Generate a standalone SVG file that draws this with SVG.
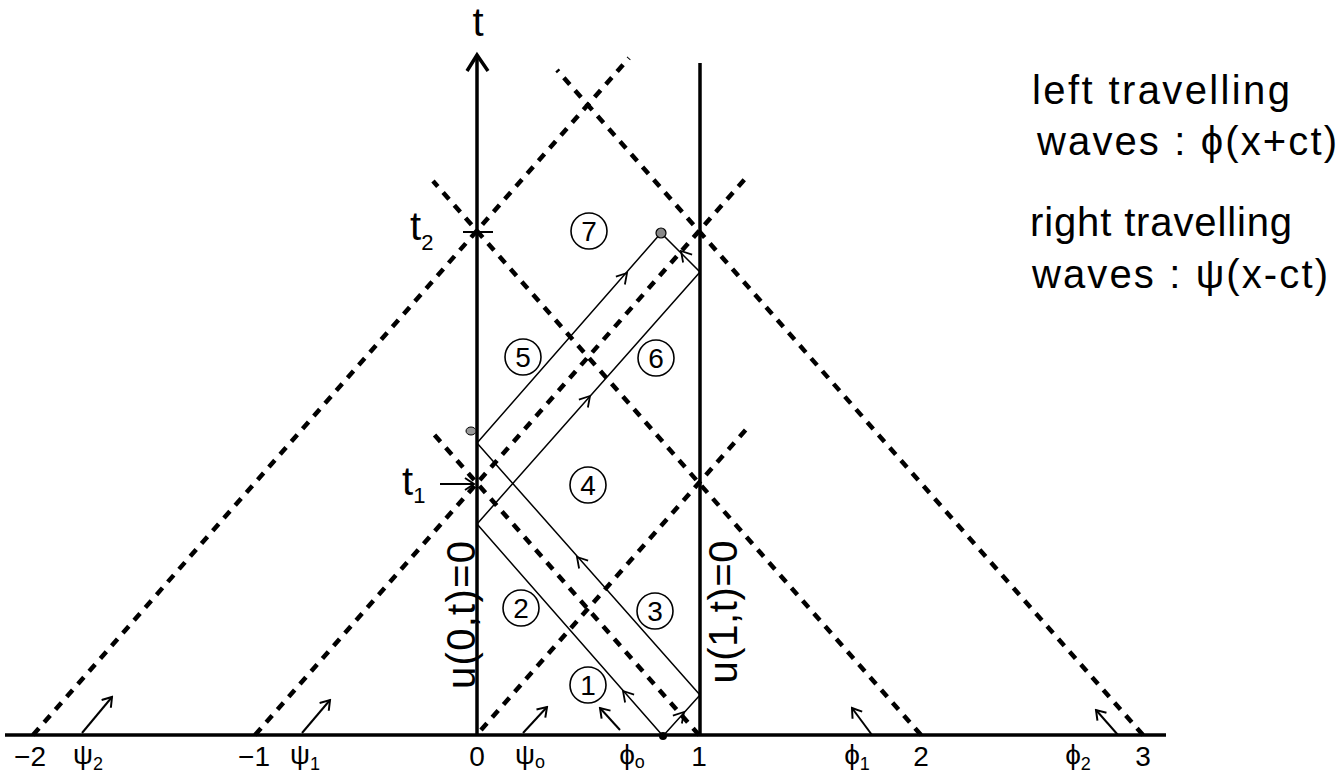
<svg xmlns="http://www.w3.org/2000/svg" width="1342" height="776" viewBox="0 0 1342 776">
<style>
.ax{stroke:#000;stroke-width:3.5;fill:none}
.d{stroke:#000;stroke-width:4.5;stroke-dasharray:9 8;fill:none}
.c{stroke:#000;stroke-width:1.5;fill:none}
.ar{stroke:#000;stroke-width:2;fill:none}
.cir{stroke:#000;stroke-width:1.6;fill:#fff}
.num{font-family:"Liberation Sans",Arial,sans-serif;font-size:28px;text-anchor:middle}
.lab{font-family:"Liberation Sans",Arial,sans-serif;font-size:28px;text-anchor:middle}
.hand{font-family:"Liberation Sans",Arial,sans-serif;font-size:40px}
</style>
<defs>
<marker id="ah" viewBox="-10 -7 12 14" refX="0" refY="0" markerWidth="12" markerHeight="14" markerUnits="userSpaceOnUse" orient="auto">
<path d="M-9,-6 L0,0 L-9,6" stroke="#000" stroke-width="2" fill="none"/>
</marker>
<path id="chev" d="M-10,-6 L0,0 L-10,6" stroke="#000" stroke-width="1.8" fill="none"/>
</defs>
<rect width="1342" height="776" fill="#fff"/>

<g id="axes">
<line class="ax" x1="5" y1="735" x2="1166" y2="735"/>
<line class="ax" x1="477" y1="735" x2="477" y2="56"/>
<path class="ax" d="M467,71 L477,55 L488,71" stroke-width="2.5"/>
<line class="ax" x1="700" y1="735" x2="700" y2="63"/>
<line stroke="#000" stroke-width="2" x1="463" y1="232" x2="493" y2="232"/>
</g>

<g id="connectors">
<line class="d" x1="33" y1="735" x2="629" y2="58"/>
<line class="d" x1="255" y1="735" x2="745" y2="179"/>
<line class="d" x1="481" y1="730" x2="750" y2="425"/>
<line class="d" x1="699" y1="735" x2="432" y2="432"/>
<line class="d" x1="921" y1="735" x2="433" y2="181"/>
<line class="d" x1="1143" y1="735" x2="557" y2="70"/>
<path class="c" d="M663,736 L477,524 L700,272 L661,233"/>
<path class="c" d="M663,736 L700,695 L477,443 L661,233"/>
<use href="#chev" transform="translate(623,691) rotate(-131.4)"/>
<use href="#chev" transform="translate(577,557) rotate(-131.4)"/>
<use href="#chev" transform="translate(681,251) rotate(-131.4)"/>
<use href="#chev" transform="translate(590,396) rotate(-48.6)"/>
<use href="#chev" transform="translate(627,273) rotate(-48.6)"/>
<use href="#chev" transform="translate(684,712) rotate(-48.6)"/>
<line class="ar" x1="82" y1="733" x2="112" y2="697" marker-end="url(#ah)"/>
<line class="ar" x1="302" y1="733" x2="330" y2="700" marker-end="url(#ah)"/>
<line class="ar" x1="523" y1="733" x2="547" y2="707" marker-end="url(#ah)"/>
<line class="ar" x1="620" y1="730" x2="600" y2="708" marker-end="url(#ah)"/>
<line class="ar" x1="872" y1="735" x2="852" y2="708" marker-end="url(#ah)"/>
<line class="ar" x1="1118" y1="735" x2="1096" y2="710" marker-end="url(#ah)"/>
<line class="ar" x1="440" y1="484" x2="474" y2="484" marker-end="url(#ah)"/>
<circle cx="663" cy="736" r="4" fill="#000"/>
<circle cx="661" cy="233" r="5" fill="#888" stroke="#000" stroke-width="1.2"/>
<ellipse cx="471" cy="431" rx="5" ry="4" fill="#999" stroke="#000" stroke-width="1"/>
</g>

<g id="regions">
<g id="r1"><circle class="cir" cx="588" cy="685" r="18"/><text class="num" x="588" y="695">1</text></g>
<g id="r2"><circle class="cir" cx="521" cy="608" r="18"/><text class="num" x="521" y="618">2</text></g>
<g id="r3"><circle class="cir" cx="655" cy="611" r="18"/><text class="num" x="655" y="621">3</text></g>
<g id="r4"><circle class="cir" cx="588" cy="485" r="18"/><text class="num" x="588" y="495">4</text></g>
<g id="r5"><circle class="cir" cx="523" cy="357" r="18"/><text class="num" x="523" y="367">5</text></g>
<g id="r6"><circle class="cir" cx="656" cy="358" r="18"/><text class="num" x="656" y="368">6</text></g>
<g id="r7"><circle class="cir" cx="589" cy="231" r="18"/><text class="num" x="589" y="241">7</text></g>
</g>

<g id="labels">
<text class="hand" x="478" y="36" text-anchor="middle" font-size="32">t</text>
<text class="hand" x="410" y="240" font-size="32">t<tspan font-size="22" dy="10">2</tspan></text>
<text class="hand" x="402" y="495" font-size="32">t<tspan font-size="22" dy="8">1</tspan></text>
<text class="hand" transform="translate(461,615) rotate(-90)" text-anchor="middle" dominant-baseline="central" font-size="30" textLength="148" lengthAdjust="spacing">u(0,t)=0</text>
<text class="hand" transform="translate(723,612) rotate(-90)" text-anchor="middle" dominant-baseline="central" font-size="30" textLength="143" lengthAdjust="spacing">u(1,t)=0</text>
<text class="lab" x="30" y="766">−2</text>
<text class="lab" x="88" y="764">ψ<tspan font-size="18" dy="6">2</tspan></text>
<text class="lab" x="254" y="766">−1</text>
<text class="lab" x="305" y="764">ψ<tspan font-size="18" dy="6">1</tspan></text>
<text class="lab" x="477" y="766">0</text>
<text class="lab" x="530" y="764">ψ<tspan font-size="18" dy="4">o</tspan></text>
<text class="lab" x="632" y="764">ϕ<tspan font-size="18" dy="4">o</tspan></text>
<text class="lab" x="699" y="766">1</text>
<text class="lab" x="857" y="764">ϕ<tspan font-size="18" dy="6">1</tspan></text>
<text class="lab" x="921" y="766">2</text>
<text class="lab" x="1078" y="764">ϕ<tspan font-size="18" dy="6">2</tspan></text>
<text class="lab" x="1143" y="766">3</text>
<text class="hand" x="1032" y="104" textLength="258" lengthAdjust="spacing">left travelling</text>
<text class="hand" x="1037" y="155" textLength="300" lengthAdjust="spacing">waves : ϕ(x+ct)</text>
<text class="hand" x="1030" y="236" textLength="262" lengthAdjust="spacing">right travelling</text>
<text class="hand" x="1032" y="288" textLength="296" lengthAdjust="spacing">waves : ψ(x-ct)</text>
</g>
</svg>
